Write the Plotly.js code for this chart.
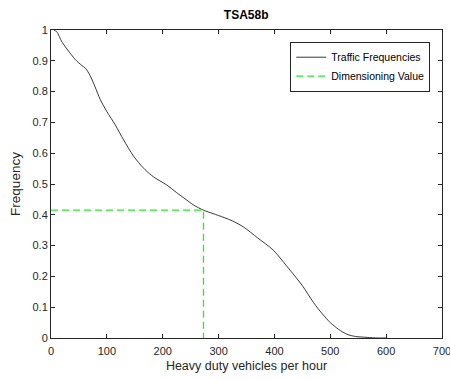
<!DOCTYPE html>
<html>
<head>
<meta charset="utf-8">
<script src="https://cdn.plot.ly/plotly-3.0.1.min.js"></script>
<style>html,body{margin:0;padding:0;background:#fff;}#chart{width:450px;height:379px;}</style>
</head>
<body>
<div id="chart"></div>
<script>
const vehicles = [5, 10, 20, 30, 43, 55, 62, 70, 79, 88, 100, 115, 130, 148, 165, 180, 195, 207, 225, 240, 255, 273, 290, 310, 325, 345, 370, 398, 428, 450, 470, 485, 500, 515, 530, 545, 566, 585, 602];
const frequency = [1, 0.995, 0.96, 0.935, 0.905, 0.885, 0.875, 0.852, 0.815, 0.775, 0.735, 0.692, 0.643, 0.59, 0.553, 0.528, 0.51, 0.497, 0.472, 0.452, 0.432, 0.415, 0.404, 0.391, 0.38, 0.36, 0.325, 0.285, 0.22, 0.17, 0.115, 0.08, 0.05, 0.028, 0.012, 0.005, 0.002, 0.0, 0.0];
const dimX = [0, 273, 273];
const dimY = [0.415, 0.415, 0];
const xTicks = [0, 100, 200, 300, 400, 500, 600, 700];
const yTicks = [0, 0.1, 0.2, 0.3, 0.4, 0.5, 0.6, 0.7, 0.8, 0.9, 1];

const axisCommon = {
  showline: true, mirror: 'ticks', linecolor: '#262626', linewidth: 1,
  ticks: 'inside', ticklen: 4, tickcolor: '#262626', tickwidth: 1,
  showgrid: false, zeroline: false, ticklabeloverflow: 'allow',
  tickfont: {family: 'Liberation Sans, Arial, sans-serif', size: 11, color: '#262626'}
};

const traces = [
  {x: vehicles, y: frequency, mode: 'lines', name: 'Traffic Frequencies',
   line: {color: '#222222', width: 0.9, shape: 'spline', smoothing: 0.8}},
  {x: dimX, y: dimY, mode: 'lines', name: 'Dimensioning Value',
   line: {color: '#22ee22', width: 1.3, dash: '7px,4px'}}
];

const layout = {
  width: 450, height: 379,
  margin: {l: 51, r: 8, t: 30, b: 41},
  paper_bgcolor: '#ffffff', plot_bgcolor: '#ffffff',
  font: {family: 'Liberation Sans, Arial, sans-serif', color: '#262626'},
  title: {text: '<b>TSA58b</b>', font: {size: 12, color: '#000000'}, x: 0.547, xanchor: 'center', y: 0.962, yanchor: 'middle'},
  xaxis: Object.assign({}, axisCommon, {
    range: [0, 700], tickvals: xTicks, ticktext: xTicks.map(String), ticklabelstandoff: 3,
    title: {text: 'Heavy duty vehicles per hour', font: {size: 12.5, color: '#262626'}, standoff: 5}
  }),
  yaxis: Object.assign({}, axisCommon, {
    range: [0, 1], tickvals: yTicks, ticktext: yTicks.map(String),
    title: {text: 'Frequency', font: {size: 13.5, color: '#262626'}, standoff: 8}
  }),
  legend: {
    x: 0.970, y: 0.962, xanchor: 'right', yanchor: 'top',
    bgcolor: '#ffffff', bordercolor: '#262626', borderwidth: 1,
    font: {size: 10.5, color: '#000000'}, tracegroupgap: 0, itemwidth: 30
  },
  showlegend: true
};

Plotly.newPlot('chart', traces, layout, {displayModeBar: false, staticPlot: true});
</script>
</body>
</html>
